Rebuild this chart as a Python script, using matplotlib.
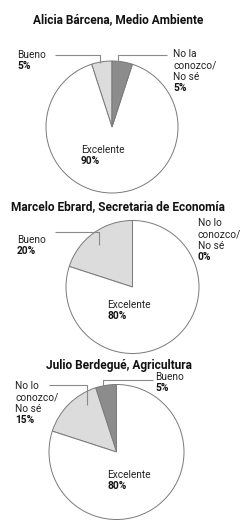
import matplotlib
matplotlib.use("Agg")
import matplotlib.pyplot as plt
from matplotlib import font_manager

# ---------------- data ----------------
titles = ["Alicia Bárcena, Medio Ambiente",
          "Marcelo Ebrard, Secretaria de Economía",
          "Julio Berdegué, Agricultura"]
# slices listed counter-clockwise from 12 o'clock
pie1_labels = ["Bueno", "Excelente", "No la\nconozco/\nNo sé"]
pie1_values = [5, 90, 5]
pie2_labels = ["Bueno", "Excelente", "No lo\nconozco/\nNo sé"]
pie2_values = [20, 80, 0]
pie3_labels = ["Bueno", "No lo\nconozco/\nNo sé", "Excelente"]
pie3_values = [5, 15, 80]

LIGHT = "#dcdcdc"
DARK = "#8c8c8c"
WHITE = "#ffffff"
pie_colors = [[LIGHT, WHITE, DARK], [LIGHT, WHITE, DARK], [DARK, LIGHT, WHITE]]

# ---------------- layout (pixels, origin top-left) ----------------
W, H = 250, 522
fams = [f.name for f in font_manager.fontManager.ttflist]
FAM = ["Liberation Sans Narrow", "DejaVu Sans"] if "Liberation Sans Narrow" in fams else ["Roboto", "DejaVu Sans"]

pie_centers = [(112, 127), (132.5, 287), (116.5, 452)]
pie_radius = [66, 66.5, 67.5]
title_pos = [(118, 20), (118, 207), (118.5, 365)]
# label anchor (left x, first-line center y) per slice
label_pos = [
    [(17, 55), (81, 150), (173, 54)],
    [(17, 240), (107, 305), (198, 223)],
    [(155, 377), (15, 386), (107, 475)],
]
leaders = [
    [(55, 55), (100, 55), (100, 63)],
    [(167, 55), (118, 55), (118, 62)],
    [(55, 232), (99, 232), (99, 245)],
    [(153, 380), (103, 380), (103, 390)],
    [(49, 385), (87, 385), (87, 405)],
]
LINE_H = 11.4

fig = plt.figure(figsize=(W / 100, H / 100), dpi=100)
ax = fig.add_axes([0, 0, 1, 1])
ax.set_xlim(0, W)
ax.set_ylim(0, H)
ax.set_aspect("equal")
ax.axis("off")


def Y(y):
    return H - y


all_labels = [pie1_labels, pie2_labels, pie3_labels]
all_values = [pie1_values, pie2_values, pie3_values]

for i in range(3):
    cx, cy = pie_centers[i]
    vals = all_values[i]
    ax.pie(vals, colors=pie_colors[i], startangle=90, counterclock=True,
           center=(cx, Y(cy)), radius=pie_radius[i],
           wedgeprops=dict(edgecolor="#7a7a7a", linewidth=0.7))
    tx, ty = title_pos[i]
    ax.text(tx, Y(ty), titles[i], ha="center", va="center", fontsize=8.6,
            fontweight="bold", family=FAM, color="#111111")
    for lab, v, (lx, ly) in zip(all_labels[i], vals, label_pos[i]):
        lines = lab.split("\n")
        for k, line in enumerate(lines):
            ax.text(lx, Y(ly + k * LINE_H), line, ha="left", va="center",
                    fontsize=7.3, family=FAM, color="#222222")
        ax.text(lx, Y(ly + len(lines) * LINE_H), f"{v}%", ha="left", va="center",
                fontsize=7.3, fontweight="bold", family=FAM, color="#111111")

ax.set_xlim(0, W)
ax.set_ylim(0, H)

for pts in leaders:
    xs = [p[0] for p in pts]
    ys = [Y(p[1]) for p in pts]
    ax.plot(xs, ys, color="#8a8a8a", linewidth=0.8, solid_capstyle="butt")

fig.savefig("out.png", dpi=100, facecolor="white")
